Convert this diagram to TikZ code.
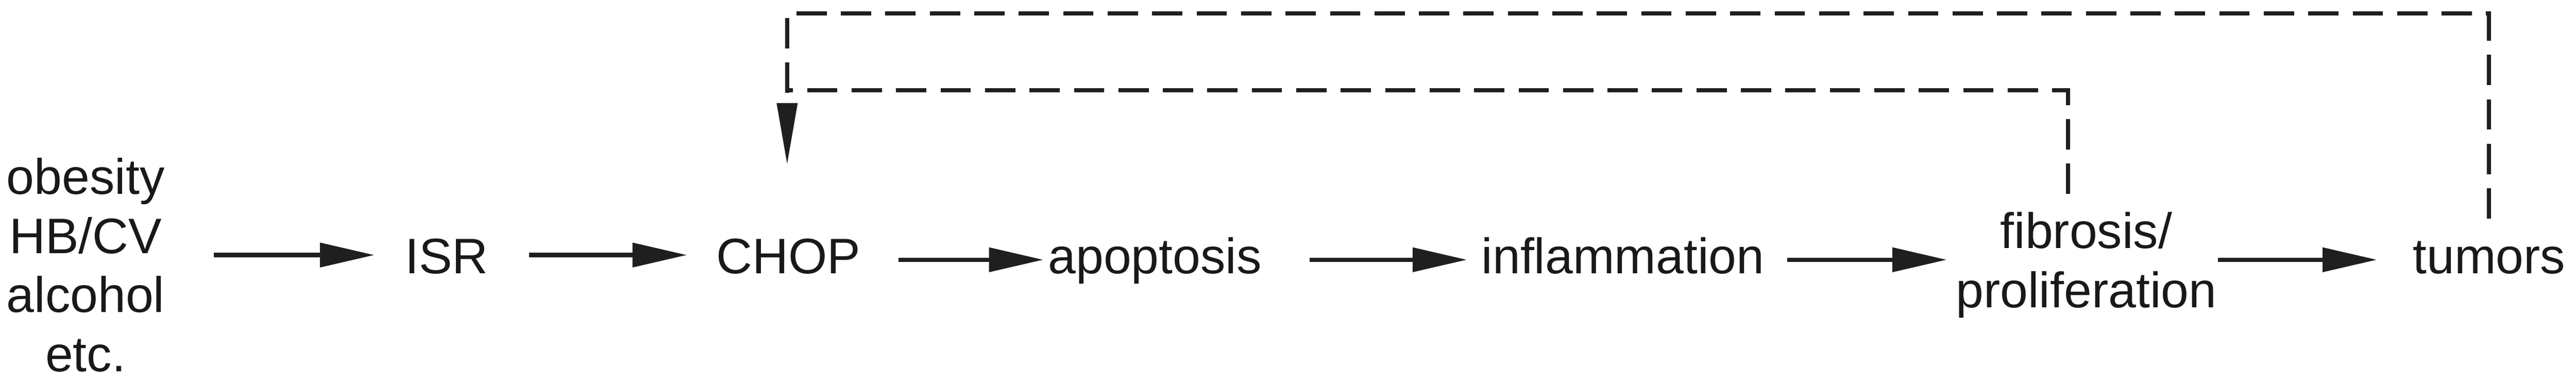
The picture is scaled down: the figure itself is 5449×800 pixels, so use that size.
\documentclass[tikz,border=0pt]{standalone}
\usepackage{fontspec}
\setmainfont{Liberation Sans}
\usetikzlibrary{arrows.meta}
\begin{document}
\begin{tikzpicture}[x=0.01cm,y=-0.01cm,
  lbl/.style={font=\fontsize{30}{35.6}\selectfont,inner sep=0pt,align=center,text=black!90},
  arr/.style={line width=0.09cm,draw=black!88,-{Triangle[length=1.15cm,width=0.5cm]}},
  fb/.style={line width=0.09cm,draw=black!88,dash pattern=on 0.64cm off 0.3cm},
  fbarr/.style={fb,-{Triangle[length=1.3cm,width=0.42cm]}}]
\useasboundingbox (0,0) rectangle (5449,800);
\node[lbl] (obe) at (181,560) {obesity\\HB/CV\\alcohol\\etc.};
\node[lbl,anchor=base] (isr) at (945,578) {ISR};
\node[lbl,anchor=base] (chop) at (1668,578) {CHOP};
\node[lbl,anchor=base] (apo) at (2443,578) {apoptosis};
\node[lbl,anchor=base] (inf) at (3433,578) {inflammation};
\node[lbl] (fib) at (4413,560) {fibrosis/\\proliferation};
\node[lbl,anchor=base] (tum) at (5265,578) {tumors};
\coordinate (a1s) at (452,539); \coordinate (a1e) at (792,539);
\coordinate (a2s) at (1119,539); \coordinate (a2e) at (1453,539);
\coordinate (a3s) at (1901,549); \coordinate (a3e) at (2207,549);
\coordinate (a4s) at (2770,549); \coordinate (a4e) at (3103,549);
\coordinate (a5s) at (3781,549); \coordinate (a5e) at (4118,549);
\coordinate (a6s) at (4691,549); \coordinate (a6e) at (5028,549);
\draw[arr] (a1s) -- (a1e);
\draw[arr] (a2s) -- (a2e);
\draw[arr] (a3s) -- (a3e);
\draw[arr] (a4s) -- (a4e);
\draw[arr] (a5s) -- (a5e);
\draw[arr] (a6s) -- (a6e);
\coordinate (tumtop) at (5265,462);
\coordinate (fibtop) at (4374,410);
\coordinate (choptop) at (1665,348);
\draw[fbarr] (tumtop) -- (5265,28) -- (1665,28) -- (choptop);
\draw[fb] (fibtop) -- (4374,191) -- (1665,191);
\end{tikzpicture}
\end{document}
